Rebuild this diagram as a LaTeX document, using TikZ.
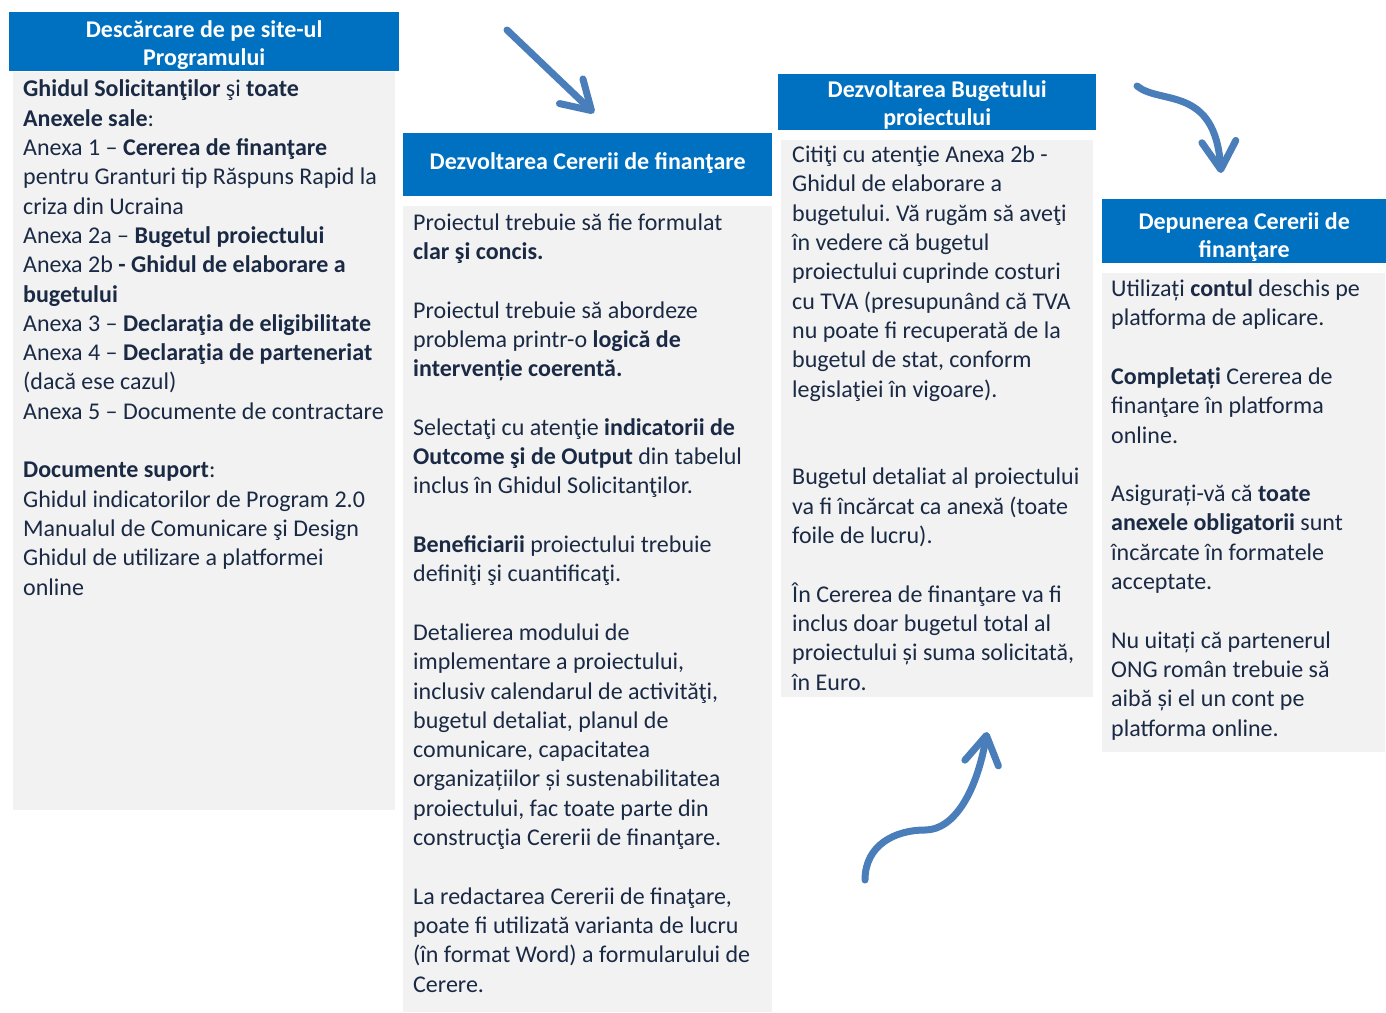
\documentclass[tikz,border=0pt]{standalone}
\usepackage{fontspec}
\setmainfont{Carlito}
\usetikzlibrary{arrows.meta,positioning}
\definecolor{headblue}{HTML}{0070C0}
\definecolor{panelgray}{HTML}{F2F2F2}
\definecolor{inktext}{HTML}{1B2A44}
\definecolor{arrowblue}{HTML}{4A7EBB}
\frenchspacing

\begin{document}
\begin{tikzpicture}[x=1pt,y=1pt]
\tikzstyle{every node}+=[inner sep=0pt]
\tikzstyle{head}=[fill=headblue, anchor=north west]
\tikzstyle{headtext}=[text=white, font=\fontsize{24}{28}\selectfont\bfseries, align=center]
\tikzstyle{panel}=[fill=panelgray, anchor=north west]
% body texts are placed by the baseline of their last line
\tikzstyle{body}=[text=inktext, font=\fontsize{24}{29.3}\selectfont, align=left, anchor=base west]
\tikzstyle{flow}=[arrowblue, line width=7pt, line cap=round, -{Straight Barb[round,length=28pt,width=34pt]}]
\useasboundingbox (0,0) rectangle (1386,-1012);
% column 1
\node [head, minimum width=390pt, minimum height=59pt] (h1) at (9,-12) {};
\node [headtext] (h1t) at ([yshift=-3pt]h1.center) {Descărcare de pe site-ul\\Programului};
\node [panel, minimum width=382pt, minimum height=738pt] (b1) at (13,-72) {};
\node [body] (t1) at (23,-595) {\textbf{Ghidul Solicitanţilor} şi \textbf{toate}\\
\textbf{Anexele sale}:\\
Anexa 1 – \textbf{Cererea de finanţare}\\
pentru Granturi tip Răspuns Rapid la\\
criza din Ucraina\\
Anexa 2a – \textbf{Bugetul proiectului}\\
Anexa 2b \textbf{- Ghidul de elaborare a}\\
\textbf{bugetului}\\
Anexa 3 – \textbf{Declaraţia de eligibilitate}\\
Anexa 4 – \textbf{Declaraţia de parteneriat}\\
(dacă ese cazul)\\
Anexa 5 – Documente de contractare\\[29.3pt]
\textbf{Documente suport}:\\
Ghidul indicatorilor de Program 2.0\\
Manualul de Comunicare şi Design\\
Ghidul de utilizare a platformei\\
online};
% column 2
\node [head, minimum width=369pt, minimum height=63pt] (h2) at (403,-133) {};
\node [headtext] (h2t) at ([yshift=2pt]h2.center) {Dezvoltarea Cererii de finanţare};
\node [panel, minimum width=369pt, minimum height=806pt] (b2) at (403,-206) {};
\node [body] (t2) at (413,-992) {Proiectul trebuie să fie formulat\\
\textbf{clar şi concis.}\\[29.3pt]
Proiectul trebuie să abordeze\\
problema printr-o \textbf{logică de}\\
\textbf{intervenție coerentă.}\\[29.3pt]
Selectaţi cu atenţie \textbf{indicatorii de}\\
\textbf{Outcome şi de Output} din tabelul\\
inclus în Ghidul Solicitanţilor.\\[29.3pt]
\textbf{Beneficiarii} proiectului trebuie\\
definiţi şi cuantificaţi.\\[29.3pt]
Detalierea modului de\\
implementare a proiectului,\\
inclusiv calendarul de activităţi,\\
bugetul detaliat, planul de\\
comunicare, capacitatea\\
organizațiilor și sustenabilitatea\\
proiectului, fac toate parte din\\
construcţia Cererii de finanţare.\\[29.3pt]
La redactarea Cererii de finaţare,\\
poate fi utilizată varianta de lucru\\
(în format Word) a formularului de\\
Cerere.};
% column 3
\node [head, minimum width=318pt, minimum height=56pt] (h3) at (778,-74) {};
\node [headtext] (h3t) at ([yshift=-3pt]h3.center) {Dezvoltarea Bugetului\\proiectului};
\node [panel, minimum width=312pt, minimum height=557pt] (b3) at (781,-140) {};
\node [body] (t3) at (792,-690) {Citiţi cu atenţie Anexa 2b -\\
Ghidul de elaborare a\\
bugetului. Vă rugăm să aveţi\\
în vedere că bugetul\\
proiectului cuprinde costuri\\
cu TVA (presupunând că TVA\\
nu poate fi recuperată de la\\
bugetul de stat, conform\\
legislaţiei în vigoare).\\[58.6pt]
Bugetul detaliat al proiectului\\
va fi încărcat ca anexă (toate\\
foile de lucru).\\[29.3pt]
În Cererea de finanţare va fi\\
inclus doar bugetul total al\\
proiectului și suma solicitată,\\
în Euro.};
% column 4
\node [head, minimum width=284pt, minimum height=64pt] (h4) at (1102,-199) {};
\node [headtext] (h4t) at ([yshift=-6pt]h4.center) {Depunerea Cererii de\\finanţare};
\node [panel, minimum width=283pt, minimum height=479pt] (b4) at (1102,-273) {};
\node [body] (t4) at (1111,-736) {Utilizați \textbf{contul} deschis pe\\
platforma de aplicare.\\[29.3pt]
\textbf{Completați} Cererea de\\
finanţare în platforma\\
online.\\[29.3pt]
Asigurați-vă că \textbf{toate}\\
\textbf{anexele obligatorii} sunt\\
încărcate în formatele\\
acceptate.\\[29.3pt]
Nu uitați că partenerul\\
ONG român trebuie să\\
aibă și el un cont pe\\
platforma online.};
% arrows between steps
\coordinate (a1s) at (507,-30);
\coordinate (a1e) at (594,-113);
\draw [flow] (a1s) -- (a1e);
\coordinate (a2s) at (1137,-86);
\coordinate (a2e) at (1221,-173);
\draw [flow] (a2s) .. controls (1160,-105) and (1215,-85) .. (a2e);
\coordinate (a3s) at (865,-880);
\coordinate (a3e) at (987,-732);
\draw [flow] (a3s) .. controls (865,-845) and (895,-830) .. (925,-830) .. controls (955,-830) and (977,-790) .. (a3e);
\end{tikzpicture}
\end{document}
